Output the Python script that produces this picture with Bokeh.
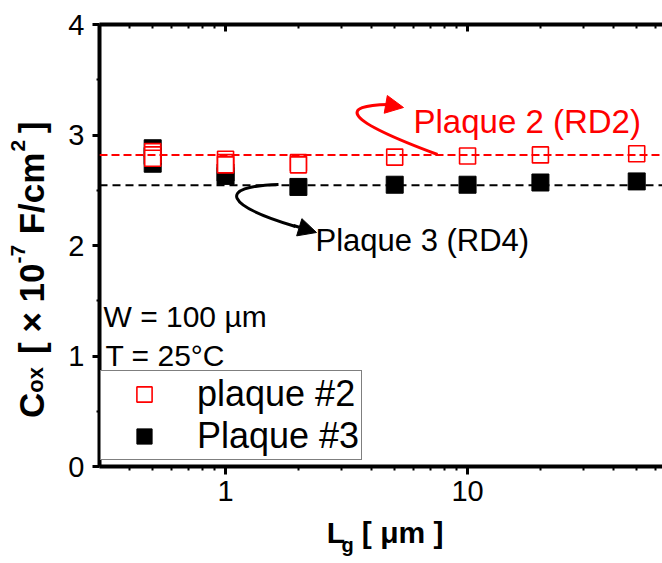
import math
from bokeh.plotting import figure
from bokeh.models import (Range1d, LogAxis, LinearAxis, FixedTicker, NumeralTickFormatter,
                          SingleIntervalTicker, Span, Label, Legend, LegendItem, Arrow, NormalHead)
from bokeh.embed import file_html
from bokeh.resources import INLINE

# ---------------- data ----------------
red_x = [0.5, 0.5, 0.5, 1, 1, 1, 2, 2, 5, 10, 20, 50]
red_y = [2.85, 2.82, 2.79, 2.78, 2.75, 2.73, 2.75, 2.73, 2.80, 2.81, 2.82, 2.83]
black_x = [0.5, 0.5, 0.5, 1, 1, 2, 5, 10, 20, 50]
black_y = [2.88, 2.81, 2.74, 2.66, 2.63, 2.53, 2.55, 2.55, 2.57, 2.58]
red_fit = 2.82
black_fit = 2.545
x_major = [0.1, 1, 10, 100]
x_minor = [k * 10 ** e for e in (-1, 0, 1) for k in range(2, 10)]
legend_labels = ["plaque #2", "Plaque #3"]

FONT = "Liberation Sans"
NB = "\u00a0"
X0, X1 = 0.3014, 63.9
Y0, Y1 = 0, 4

p = figure(width=662, height=563, x_axis_type="log",
           x_range=Range1d(X0, X1), y_range=Range1d(Y0, Y1),
           output_backend="svg", toolbar_location=None,
           min_border_left=99, min_border_right=0, min_border_top=24, min_border_bottom=97)
p.outline_line_color = None
p.grid.visible = False
p.background_fill_color = "white"

# helpers: canvas pixel -> data coordinates (annotations only)
FL, FR, FT, FB = 99, 662, 24, 466
def xd(px):
    return 10 ** (math.log10(X0) + (px - FL) / (FR - FL) * (math.log10(X1) - math.log10(X0)))
def yd(py):
    return Y0 + (FB - py) / (FB - FT) * (Y1 - Y0)

# ---------------- axes ----------------
xa = p.xaxis[0]
xa.ticker = FixedTicker(ticks=x_major, minor_ticks=x_minor)
xa.formatter = NumeralTickFormatter(format="0")
xa.axis_line_width = 4
xa.major_tick_line_width = 3
xa.minor_tick_line_width = 2
xa.major_tick_out = 8
xa.major_tick_in = 0
xa.minor_tick_out = 4
xa.minor_tick_in = 0
xa.major_label_text_font = FONT
xa.major_label_text_font_size = "29px"
xa.major_label_text_color = "black"
xa.major_label_standoff = 6
xa.axis_label = NB + "L" + NB * 2 + "[ μm ]"
xa.axis_label_text_font = FONT
xa.axis_label_text_font_size = "30px"
xa.axis_label_text_font_style = "bold"
xa.axis_label_text_color = "black"
xa.axis_label_standoff = 12

ya = p.yaxis[0]
ya.ticker = SingleIntervalTicker(interval=1, num_minor_ticks=2)
ya.axis_line_width = 4
ya.major_tick_line_width = 3
ya.minor_tick_line_width = 2
ya.major_tick_out = 7
ya.major_tick_in = 0
ya.minor_tick_out = 3
ya.minor_tick_in = 0
ya.major_label_text_font = FONT
ya.major_label_text_font_size = "29px"
ya.major_label_text_color = "black"
ya.major_label_standoff = 8
ya.axis_label = "C" + NB * 3 + " [ × 10" + NB * 2 + " F/cm" + NB + " ]" + NB * 5
ya.axis_label_text_font = FONT
ya.axis_label_text_font_size = "35px"
ya.axis_label_text_font_style = "bold"
ya.axis_label_text_color = "black"
ya.axis_label_standoff = 14

ta = LogAxis(ticker=FixedTicker(ticks=x_major, minor_ticks=x_minor),
             major_label_text_font_size="1px", major_label_text_color=None,
             major_label_standoff=0,
             axis_line_width=4, major_tick_line_width=3, minor_tick_line_width=2,
             major_tick_in=7, major_tick_out=0, minor_tick_in=4, minor_tick_out=0)
p.add_layout(ta, "above")

def label_axis(cls, text, size, standoff):
    return cls(ticker=FixedTicker(ticks=[]), axis_line_color=None,
               major_tick_in=0, major_tick_out=0, minor_tick_in=0, minor_tick_out=0,
               axis_label=text, axis_label_text_font=FONT,
               axis_label_text_font_size=f"{size}px", axis_label_text_font_style="bold",
               axis_label_text_color="black", axis_label_standoff=standoff)

# subscript g of L_g
p.add_layout(label_axis(LogAxis, "g" + NB * 12, 20, -18), "below")
# subscript ox (sits inside the main label's band)
p.add_layout(label_axis(LinearAxis, "ox" + NB * 44, 22, -38), "left")
# superscripts -7 and 2
p.add_layout(label_axis(LinearAxis, NB * 15 + "-7" + NB * 16 + "2", 21, -19), "left")

# ---------------- data marks ----------------
r_black = p.scatter(black_x, black_y, marker="square", size=17,
                    fill_color="black", line_color="black", line_width=1)
r_red = p.scatter(red_x, red_y, marker="square", size=16,
                  fill_color="white", line_color="red", line_width=1.6)

p.add_layout(Span(location=red_fit, dimension="width", line_color="red",
                  line_dash="8 4", line_width=2))
p.add_layout(Span(location=black_fit, dimension="width", line_color="black",
                  line_dash="8 5", line_width=2))

# ---------------- arrows ----------------
p.bezier(x0=[xd(437)], y0=[yd(154)], x1=[xd(388)], y1=[yd(104)],
         cx0=[xd(340)], cy0=[yd(118)], cx1=[xd(340)], cy1=[yd(105)],
         line_color="red", line_width=3)
p.add_layout(Arrow(end=NormalHead(size=18, fill_color="red", line_color="red"),
                   x_start=xd(386), y_start=yd(104), x_end=xd(403), y_end=yd(107),
                   line_color="red", line_width=3))
p.bezier(x0=[xd(278)], y0=[yd(184)], x1=[xd(295)], y1=[yd(226)],
         cx0=[xd(215)], cy0=[yd(186)], cx1=[xd(225)], cy1=[yd(205)],
         line_color="black", line_width=3)
p.add_layout(Arrow(end=NormalHead(size=18, fill_color="black", line_color="black"),
                   x_start=xd(293), y_start=yd(225), x_end=xd(316), y_end=yd(232),
                   line_color="black", line_width=3))

# ---------------- text annotations ----------------
def lab(text, px, py, size, color="black"):
    p.add_layout(Label(x=xd(px), y=yd(py), text=text, text_font=FONT,
                       text_font_size=f"{size}px", text_color=color,
                       text_baseline="alphabetic", text_align="left"))

lab("Plaque 2 (RD2)", 413, 121, 33, color="red")
lab("Plaque 3 (RD4)", 315, 240, 31)
lab("W = 100 µm", 103, 316, 30)
lab("T = 25°C", 105, 355, 30)

# ---------------- legend ----------------
legend = Legend(items=[LegendItem(label=legend_labels[0], renderers=[r_red]),
                       LegendItem(label=legend_labels[1], renderers=[r_black])],
                location=(1, 6), margin=0, padding=2, spacing=0,
                glyph_width=82, glyph_height=38, label_height=40, label_standoff=12,
                label_text_font=FONT, label_text_font_size="36px", label_text_color="black",
                border_line_color="black", border_line_width=1,
                background_fill_color="white", background_fill_alpha=1.0)
p.add_layout(legend)

open("out.html", "w").write(file_html(p, INLINE))
